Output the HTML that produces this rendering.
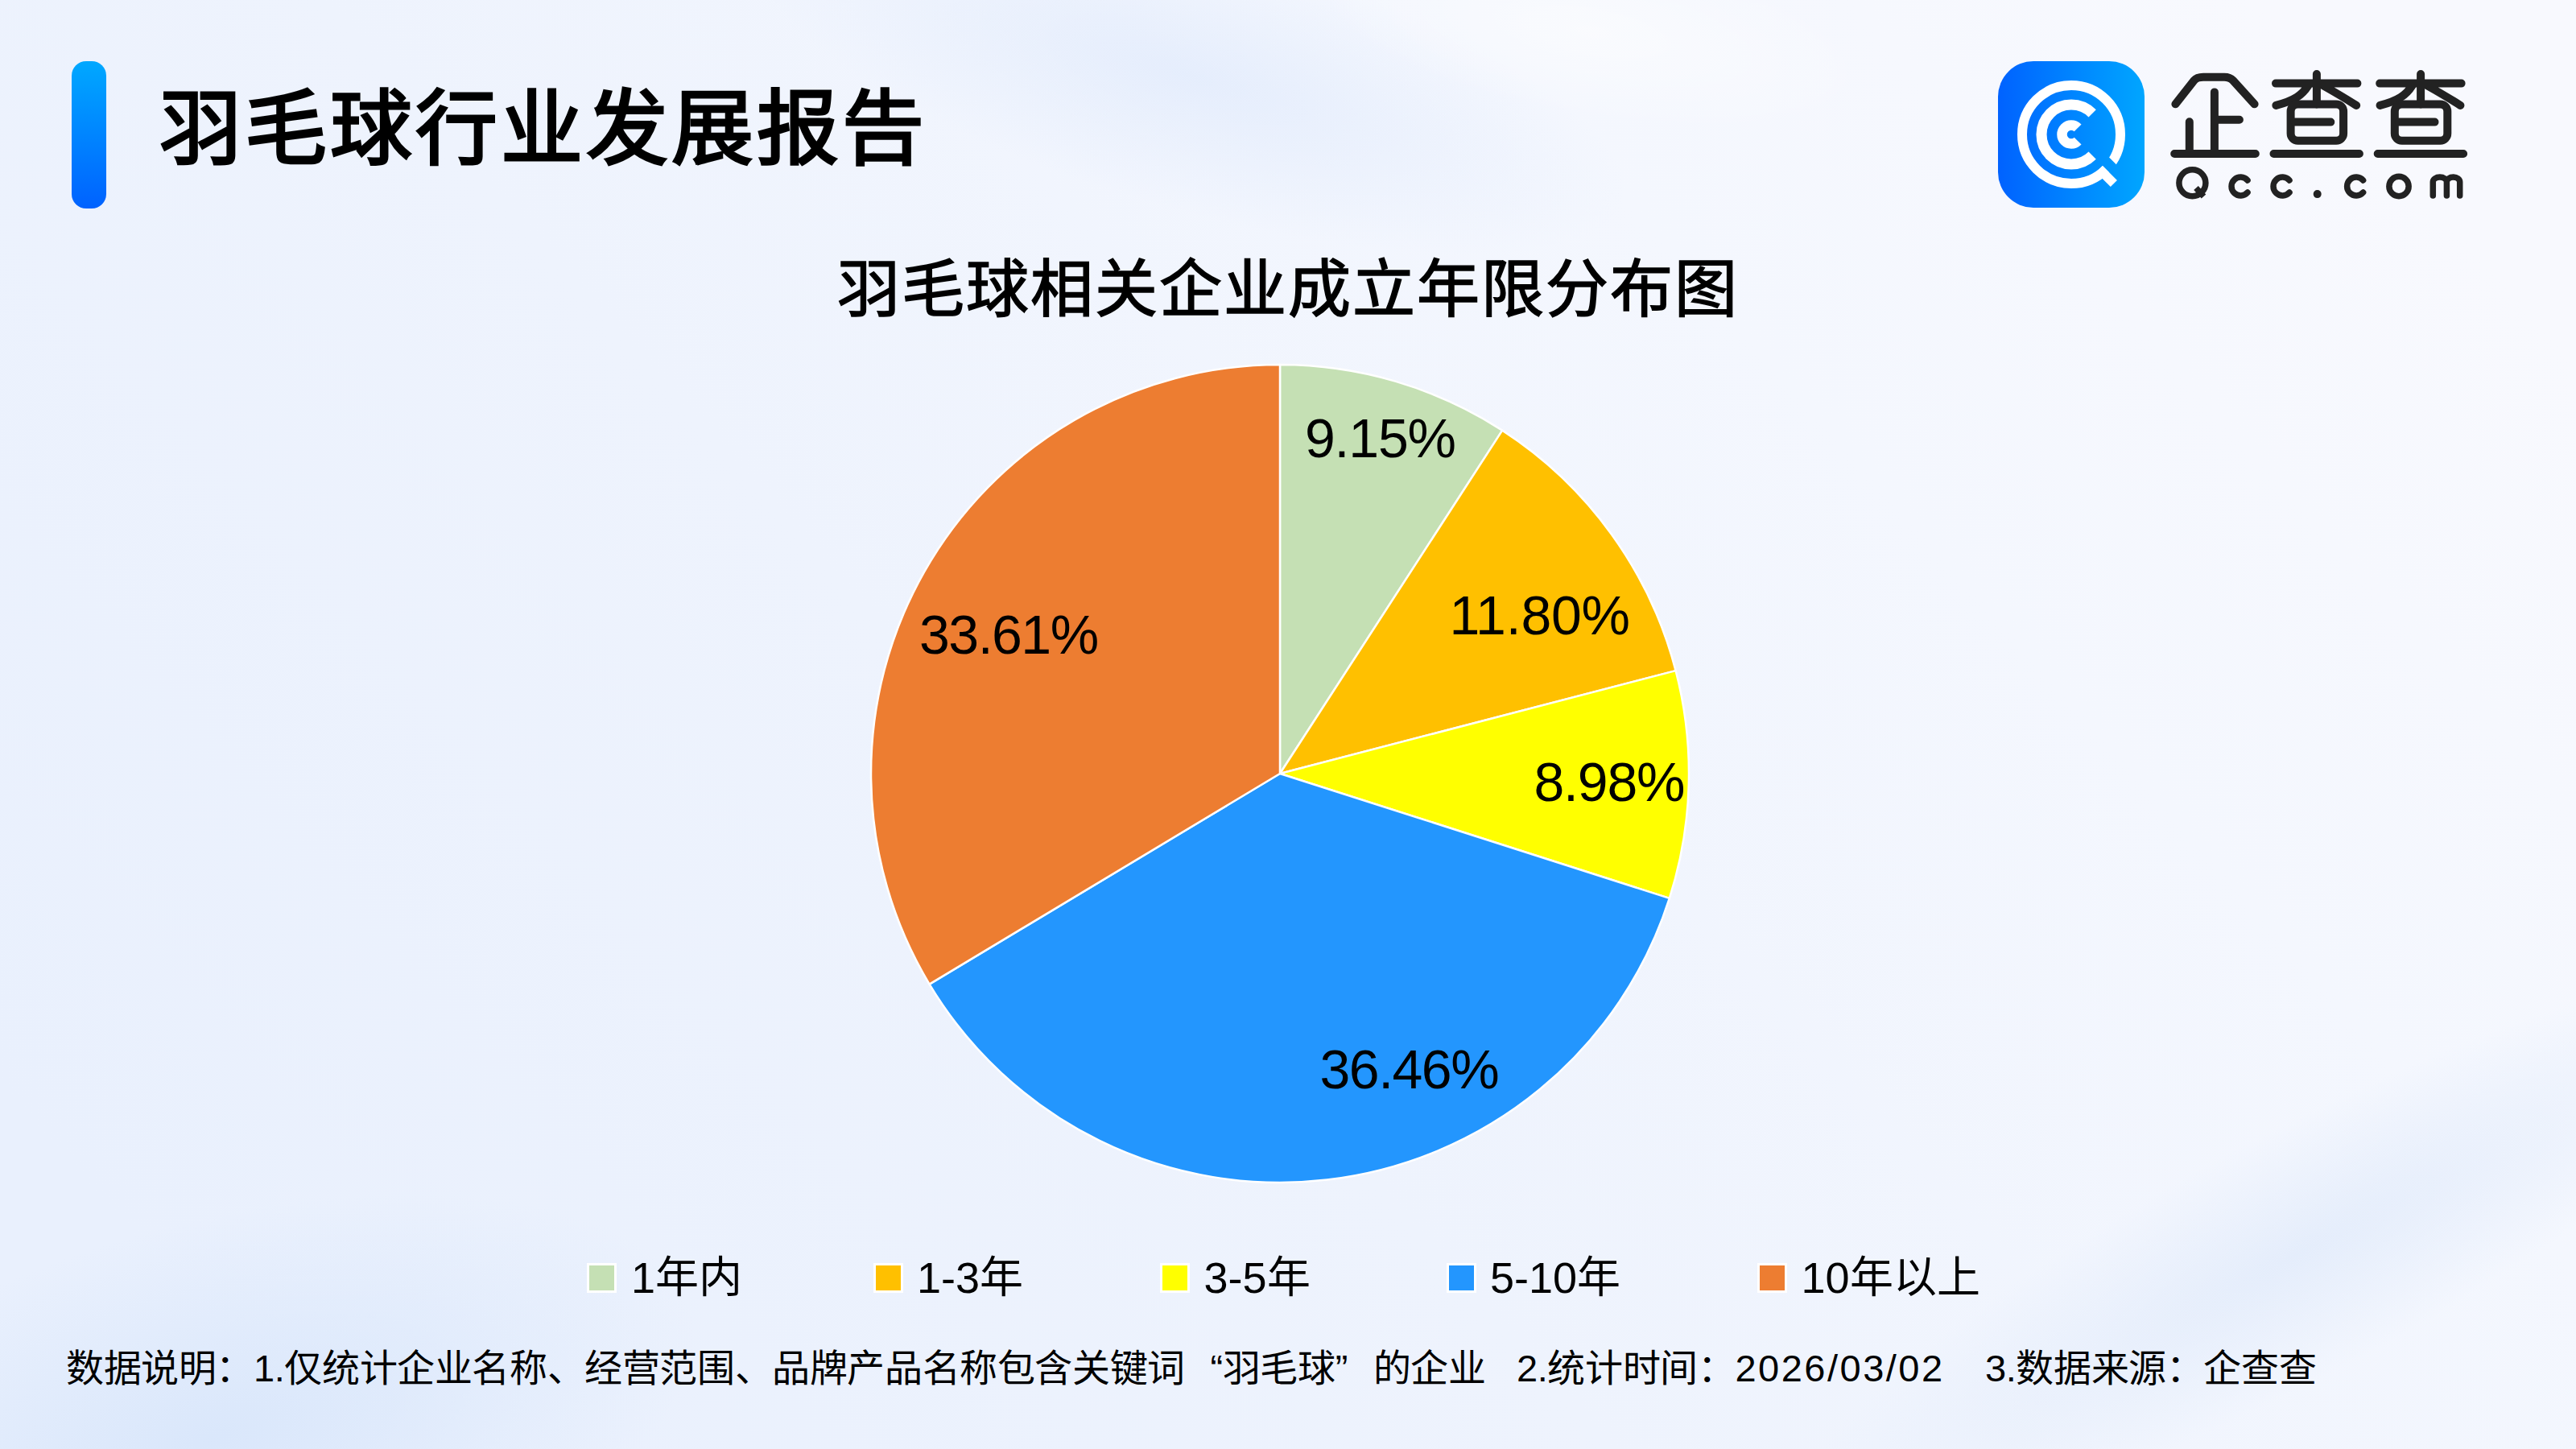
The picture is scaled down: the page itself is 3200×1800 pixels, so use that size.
<!DOCTYPE html>
<html lang="zh-CN">
<head>
<meta charset="utf-8">
<style>
html,body{margin:0;padding:0;}
body{width:3200px;height:1800px;position:relative;overflow:hidden;font-family:"Liberation Sans",sans-serif;color:#000;background:#EEF2FC;}
.bg{position:absolute;left:0;top:0;width:3200px;height:1800px;}
.bar{position:absolute;left:89px;top:76px;width:43px;height:183px;border-radius:18px;background:linear-gradient(180deg,#00A8FF 0%,#0062FF 100%);}
.t1{position:absolute;left:198px;top:96px;font-size:102px;font-weight:900;line-height:130px;white-space:nowrap;letter-spacing:4px;}
.t2{position:absolute;left:1040px;top:310px;font-size:78px;font-weight:400;line-height:100px;white-space:nowrap;letter-spacing:2px;-webkit-text-stroke:1.6px #000;}
.lab{position:absolute;font-size:68px;line-height:80px;white-space:nowrap;letter-spacing:-1.5px;}
.leg{position:absolute;top:1555px;font-size:54px;line-height:64px;white-space:nowrap;}
.sq{position:absolute;top:1569px;width:31px;height:31px;border:3px solid #fff;}
.foot{position:absolute;top:1669.5px;font-size:47px;letter-spacing:-0.4px;line-height:60px;white-space:nowrap;color:#000;}
.ql,.qr{display:inline-block;width:1em;}
.ql{text-align:right;}
.qr{text-align:left;}
svg{position:absolute;left:0;top:0;}
</style>
</head>
<body>
<svg class="bg" width="3200" height="1800" viewBox="0 0 3200 1800">
<defs>
<linearGradient id="bgl" x1="0" y1="0.75" x2="1" y2="0.25">
<stop offset="0" stop-color="#E9F0FD"/>
<stop offset="0.4" stop-color="#EEF3FD"/>
<stop offset="0.75" stop-color="#F4F7FE"/>
<stop offset="1" stop-color="#F8F9FE"/>
</linearGradient>
<radialGradient id="b1" cx="0.5" cy="0.5" r="0.5">
<stop offset="0" stop-color="#DAE6FB" stop-opacity="0.9"/>
<stop offset="1" stop-color="#DAE6FB" stop-opacity="0"/>
</radialGradient>
<radialGradient id="b2" cx="0.5" cy="0.5" r="0.5">
<stop offset="0" stop-color="#D3E3FA" stop-opacity="1"/>
<stop offset="1" stop-color="#D3E3FA" stop-opacity="0"/>
</radialGradient>
<radialGradient id="b3" cx="0.5" cy="0.5" r="0.5">
<stop offset="0" stop-color="#E3ECFB" stop-opacity="0.9"/>
<stop offset="1" stop-color="#E3ECFB" stop-opacity="0"/>
</radialGradient>
<radialGradient id="b4" cx="0.5" cy="0.5" r="0.5">
<stop offset="0" stop-color="#FFFFFF" stop-opacity="0.8"/>
<stop offset="1" stop-color="#FFFFFF" stop-opacity="0"/>
</radialGradient>
</defs>
<rect width="3200" height="1800" fill="url(#bgl)"/>
<ellipse cx="1480" cy="95" rx="560" ry="165" fill="url(#b1)" opacity="0.6" transform="rotate(16 1480 95)"/>
<ellipse cx="1980" cy="40" rx="360" ry="110" fill="url(#b4)" opacity="0.6" transform="rotate(10 1980 40)"/>
<ellipse cx="260" cy="1790" rx="620" ry="270" fill="url(#b2)" opacity="0.7" transform="rotate(-15 260 1790)"/>
<ellipse cx="2850" cy="1560" rx="700" ry="150" fill="url(#b3)" transform="rotate(-28 2850 1560)"/>
</svg>


<svg width="3200" height="1800" viewBox="0 0 3200 1800">
<defs>
<linearGradient id="lg" x1="0" y1="0" x2="1" y2="0">
<stop offset="0" stop-color="#0062FF"/>
<stop offset="1" stop-color="#00A6FF"/>
</linearGradient>
<mask id="gapm" maskUnits="userSpaceOnUse" x="-100" y="-100" width="200" height="200">
<rect x="-100" y="-100" width="200" height="200" fill="#fff"/>
<rect x="0" y="-13.2" width="100" height="13.2" fill="#000" transform="rotate(45)"/>
</mask>
</defs>
<rect x="2482" y="76" width="182" height="182" rx="44" fill="url(#lg)"/>
<g transform="translate(2573 167)" fill="none" stroke="#fff">
<circle r="61" stroke-width="12" mask="url(#gapm)"/>
<rect x="55" y="0" width="25.5" height="11.5" fill="#fff" stroke="none" transform="rotate(45)"/>
<path d="M26.16 26.16A37 37 0 1 1 26.16 -26.16" stroke-width="13.1"/>
<path d="M8.13 8.13A11.5 11.5 0 1 1 8.13 -8.13" stroke-width="12.5"/>
</g>
<g fill="none" stroke="#222" stroke-width="10" stroke-linecap="round" stroke-linejoin="round">
<path d="M2702.4 129.3L2725.6 99.9Q2729 95.7 2737 95.7L2763 95.7Q2770 95.7 2774 100L2800.6 129.3"/>
<path d="M2750.9 114.4V191M2750.9 148.7H2781.9M2719.8 151.3V191M2701.2 191H2801.8"/>
<g id="cha">
<path d="M2827 103.6H2928.4M2877.9 92V129.5M2867.5 106C2860 118 2850 125 2827.4 130.9M2886.2 106.5Q2905 117 2927.2 130.9"/>
<rect x="2845.6" y="129.5" width="65.5" height="45.3" rx="9"/>
<path d="M2850.6 151.6H2895.3M2824.5 191H2930.9"/>
</g>
<use href="#cha" x="129.2"/>
</g>
<g fill="none" stroke="#222" stroke-width="7.5" stroke-linecap="round">
<circle cx="2723.4" cy="227.2" r="16.5"/>
<path d="M2728 233.5L2737.5 244" stroke-linecap="butt"/>
<path d="M2792 224A11.4 11.4 0 1 0 2792 239"/>
<path d="M2844 224A11.4 11.4 0 1 0 2844 239"/>
<path d="M2935.6 224A11.4 11.4 0 1 0 2935.6 239"/>
<circle cx="2980" cy="231.5" r="12.15"/>
<path d="M3022.3 243V226A8.55 6 0 0 1 3039.4 226V243M3039.4 226A8.15 6 0 0 1 3055.7 226V243"/>
</g>
<circle cx="2878.7" cy="241.1" r="5" fill="#222"/>
</svg>

<div class="bar"></div>
<div class="t1">羽毛球行业发展报告</div>

<div class="t2">羽毛球相关企业成立年限分布图</div>

<svg width="3200" height="1800" viewBox="0 0 3200 1800">
<g stroke="#fff" stroke-width="2.5" stroke-linejoin="round">
<path fill="#C5E0B4" d="M1590 961L1590.00 453.00A508 508 0 0 1 1866.23 534.67Z"/>
<path fill="#FFC000" d="M1590 961L1866.23 534.67A508 508 0 0 1 2081.64 833.12Z"/>
<path fill="#FFFF00" d="M1590 961L2081.64 833.12A508 508 0 0 1 2073.82 1115.85Z"/>
<path fill="#2396FE" d="M1590 961L2073.82 1115.85A508 508 0 0 1 1154.54 1222.61Z"/>
<path fill="#ED7D31" d="M1590 961L1154.54 1222.61A508 508 0 0 1 1590.00 453.00Z"/>
</g>
</svg>

<div class="lab" style="left:1621px;top:504px;letter-spacing:-1.2px;">9.15%</div>
<div class="lab" style="left:1800.5px;top:723.5px;letter-spacing:-0.2px;">11.80%</div>
<div class="lab" style="left:1905.5px;top:930.5px;letter-spacing:-1.2px;">8.98%</div>
<div class="lab" style="left:1639.5px;top:1288px;">36.46%</div>
<div class="lab" style="left:1142px;top:748px;">33.61%</div>

<div class="sq" style="left:729px;background:#C5E0B4;"></div>
<div class="leg" style="left:784px;">1年内</div>
<div class="sq" style="left:1085px;background:#FFC000;"></div>
<div class="leg" style="left:1139px;">1-3年</div>
<div class="sq" style="left:1441px;background:#FFFF00;"></div>
<div class="leg" style="left:1495.5px;">3-5年</div>
<div class="sq" style="left:1797px;background:#2396FE;"></div>
<div class="leg" style="left:1851px;">5-10年</div>
<div class="sq" style="left:2183px;background:#ED7D31;"></div>
<div class="leg" style="left:2237.5px;">10年以上</div>

<div class="foot" style="left:82px;">数据说明：1.仅统计企业名称、经营范围、品牌产品名称包含关键词<span class="ql">“</span>羽毛球<span class="qr">”</span>的企业</div>
<div class="foot" style="left:1884px;">2.统计时间：<span style="letter-spacing:2.5px;">2026/03/02</span></div>
<div class="foot" style="left:2466px;">3.数据来源：企查查</div>

</body>
</html>
